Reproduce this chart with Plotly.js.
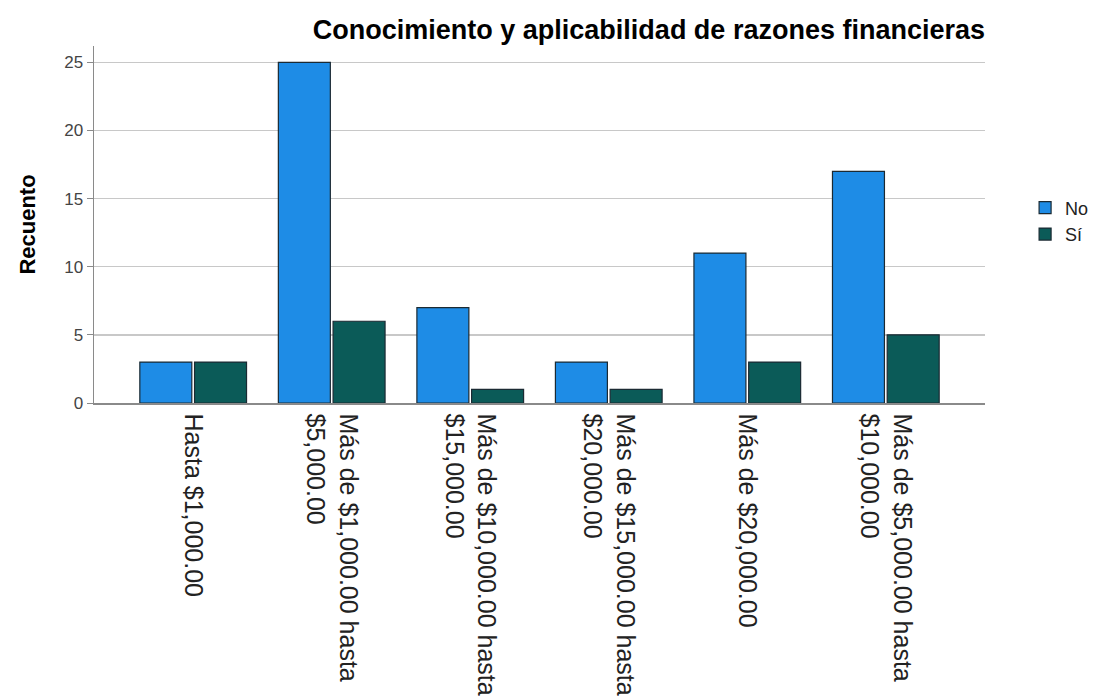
<!DOCTYPE html>
<html>
<head>
<meta charset="utf-8">
<script src="https://cdn.plot.ly/plotly-3.0.1.min.js"></script>
<style>html,body{margin:0;padding:0;background:#fff;}#chart{width:1095px;height:696px;}</style>
</head>
<body>
<div id="chart"></div>
<script>
var categories = [
  "Hasta $1,000.00",
  "Más de $1,000.00 hasta<br>$5,000.00",
  "Más de $10,000.00 hasta<br>$15,000.00",
  "Más de $15,000.00 hasta<br>$20,000.00",
  "Más de $20,000.00",
  "Más de $5,000.00 hasta<br>$10,000.00"
];
var valuesNo = [3, 25, 7, 3, 11, 17];
var valuesSi = [3, 6, 1, 1, 3, 5];
var seriesNames = ["No", "Sí"];
var yTicks = [0, 5, 10, 15, 20, 25];

var traces = [
  {type: "bar", name: seriesNames[0], x: categories, y: valuesNo,
   marker: {color: "#1e8ce6", line: {color: "#1b2a33", width: 1.2}}},
  {type: "bar", name: seriesNames[1], x: categories, y: valuesSi,
   marker: {color: "#0b5b58", line: {color: "#1b2a33", width: 1.2}}}
];

var layout = {
  width: 1095, height: 696,
  paper_bgcolor: "#ffffff", plot_bgcolor: "#ffffff",
  margin: {l: 94, r: 110, t: 46, b: 293, autoexpand: false},
  barmode: "group", bargap: 0.21, bargroupgap: 0.05,
  font: {family: "Liberation Sans, Arial, sans-serif", color: "#333"},
  title: {text: "Conocimiento y aplicabilidad de razones financieras",
          font: {size: 27, color: "#000", weight: "bold"},
          x: 1, xref: "paper", xanchor: "right", y: 0.958, yanchor: "middle"},
  xaxis: {type: "category", range: [-0.716, 5.716], tickangle: 90,
          tickfont: {size: 25, color: "#222"}, showgrid: false,
          showline: true, linecolor: "#8a8a8a", linewidth: 1.5,
          ticks: "", automargin: false, ticklabelstandoff: 4},
  yaxis: {range: [0, 26.2], tickvals: yTicks, ticktext: yTicks.map(String),
          tickfont: {size: 17, color: "#444"},
          ticks: "outside", ticklen: 6, tickcolor: "#8a8a8a",
          showline: true, linecolor: "#8a8a8a", linewidth: 1.5,
          showgrid: true, gridcolor: "#c8c8c8", gridwidth: 1.5,
          zeroline: false, automargin: false,
          title: {text: "Recuento", font: {size: 22, color: "#000", weight: "bold"}, standoff: 22}},
  legend: {x: 1.045, xanchor: "left", y: 0.51, yanchor: "middle",
           font: {size: 18, color: "#222"}, tracegroupgap: 0, itemwidth: 30},
  showlegend: true
};

Plotly.newPlot("chart", traces, layout, {displayModeBar: false, staticPlot: true});
</script>
</body>
</html>
